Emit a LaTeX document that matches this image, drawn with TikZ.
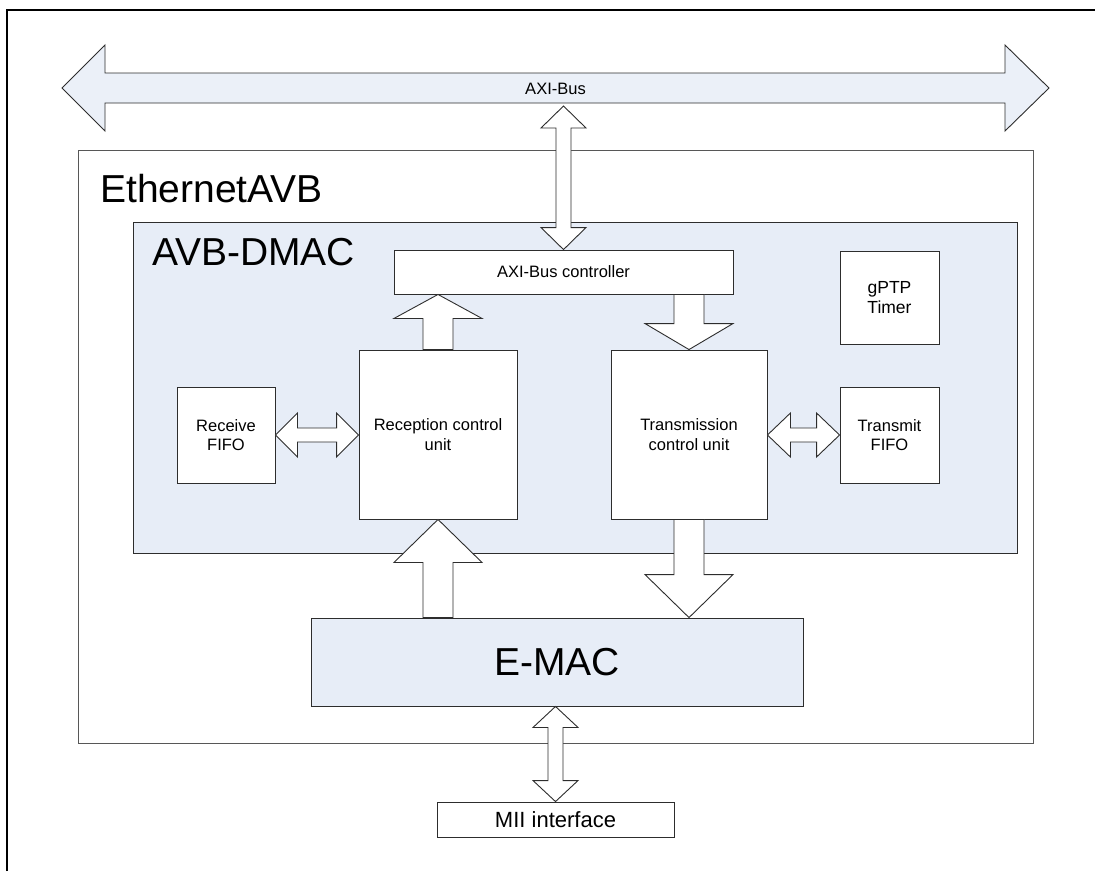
\documentclass[tikz,border=0pt]{standalone}
\usepackage{fontspec}
\setmainfont{Liberation Sans}
\usetikzlibrary{calc}
\definecolor{lblue}{RGB}{231,237,247}
\definecolor{busblue}{RGB}{235,240,248}
\definecolor{edge}{RGB}{45,45,45}
% single vertical block arrow: tail point #1, tip point #2, shaft half #3, head half #4, head length #5
\newcommand\sarrowV[5]{%
  \draw[barrow] let \p1=#1, \p2=#2, \n1={\y2-sign(\y2-\y1)*#5pt} in
    (\x2-#3pt,\y1) -- (\x2-#3pt,\n1) -- (\x2-#4pt,\n1) -- (\x2,\y2)
    -- (\x2+#4pt,\n1) -- (\x2+#3pt,\n1) -- (\x2+#3pt,\y1) -- cycle;}
% double vertical block arrow between tips #1 and #2
\newcommand\darrowV[5]{%
  \draw[barrow] let \p1=#1, \p2=#2, \n1={\y1+sign(\y2-\y1)*#5pt}, \n2={\y2-sign(\y2-\y1)*#5pt} in
    (\x1,\y1) -- (\x1+#4pt,\n1) -- (\x1+#3pt,\n1) -- (\x1+#3pt,\n2) -- (\x1+#4pt,\n2)
    -- (\x1,\y2) -- (\x1-#4pt,\n2) -- (\x1-#3pt,\n2) -- (\x1-#3pt,\n1) -- (\x1-#4pt,\n1) -- cycle;}
% double horizontal block arrow between tips #1 and #2
\newcommand\darrowH[5]{%
  \draw[barrow] let \p1=#1, \p2=#2, \n1={\x1+sign(\x2-\x1)*#5pt}, \n2={\x2-sign(\x2-\x1)*#5pt} in
    (\x1,\y1) -- (\n1,\y1+#4pt) -- (\n1,\y1+#3pt) -- (\n2,\y1+#3pt) -- (\n2,\y1+#4pt)
    -- (\x2,\y1) -- (\n2,\y1-#4pt) -- (\n2,\y1-#3pt) -- (\n1,\y1-#3pt) -- (\n1,\y1-#4pt) -- cycle;}
\begin{document}
\begin{tikzpicture}[x=1pt,y=-1pt,
  box/.style={draw=edge, line width=0.9pt, fill=white, inner sep=0pt, align=center,
    font=\fontsize{16.5}{19.5}\selectfont},
  bluebox/.style={box, fill=lblue},
  barrow/.style={draw=edge, line width=0.9pt, fill=white, line join=miter},
  bigtext/.style={font=\fontsize{39}{44}\selectfont, inner sep=0pt}]
\useasboundingbox (0,0) rectangle (1095,871);
% frame
\draw[line width=2pt, black] (7,871) -- (7,10) -- (1095,10);
% AXI bus
\draw[barrow, fill=busblue] (62,88) -- (105,45) -- (105,73) -- (1005,73) -- (1005,45) -- (1049,88)
  -- (1005,131) -- (1005,103) -- (105,103) -- (105,131) -- cycle;
\node[font=\fontsize{16.5}{19.5}\selectfont, inner sep=0pt] (bus) at (555.5,88.5) {AXI-Bus};
\coordinate (bustip) at (563.5,106);
% containers
\node[box, draw=edge!80, minimum width=955, minimum height=593] (eth) at (555.5,446.5) {};
\node[bigtext, anchor=base west] (ethlbl) at (100,202) {EthernetAVB};
\node[bluebox, minimum width=884, minimum height=331] (dmac) at (575,387.5) {};
\node[bigtext, anchor=base west] (dmaclbl) at (152,265) {AVB-DMAC};
% inner blocks
\node[box, minimum width=339, minimum height=44] (ctrl) at (563.5,272) {AXI-Bus controller};
\node[box, minimum width=99, minimum height=93, font=\fontsize{17.5}{20}\selectfont] (gptp) at (889.5,297.5) {gPTP\\Timer};
\node[box, minimum width=158, minimum height=169] (recv) at (438,434.5) {Reception control\\unit};
\node[box, minimum width=156, minimum height=169] (tx) at (689,434.5) {Transmission\\control unit};
\node[box, minimum width=98, minimum height=96] (rfifo) at (226,435) {Receive\\FIFO};
\node[box, minimum width=99, minimum height=96] (tfifo) at (889.5,435) {Transmit\\FIFO};
\node[bluebox, minimum width=492, minimum height=88, font=\fontsize{39}{44}\selectfont] (emac) at (557,662) {E-MAC};
\node[box, minimum width=237, minimum height=35, font=\fontsize{22}{26}\selectfont] (mii) at (555.5,819.5) {MII interface};
% arrow axes
\coordinate (xa) at (438,0);
\coordinate (xb) at (689,0);
\coordinate (xc) at (563.5,0);
\coordinate (xd) at (555.5,0);
\coordinate (ya) at (0,435);
% connectors
\darrowV{(bustip)}{(ctrl.north -| xc)}{7.5}{22.5}{22}
\sarrowV{(recv.north -| xa)}{(ctrl.south -| xa)}{15}{44}{24}
\sarrowV{(ctrl.south -| xb)}{(tx.north -| xb)}{15}{44}{26}
\sarrowV{(emac.north -| xa)}{(recv.south -| xa)}{15}{44}{43}
\sarrowV{(tx.south -| xb)}{(emac.north -| xb)}{15}{44}{43}
\darrowV{(emac.south -| xd)}{(mii.north -| xd)}{7.5}{22.5}{21}
\darrowH{(rfifo.east |- ya)}{(recv.west |- ya)}{7}{22}{22}
\darrowH{(tx.east |- ya)}{(tfifo.west |- ya)}{7}{22}{23}
\end{tikzpicture}
\end{document}
